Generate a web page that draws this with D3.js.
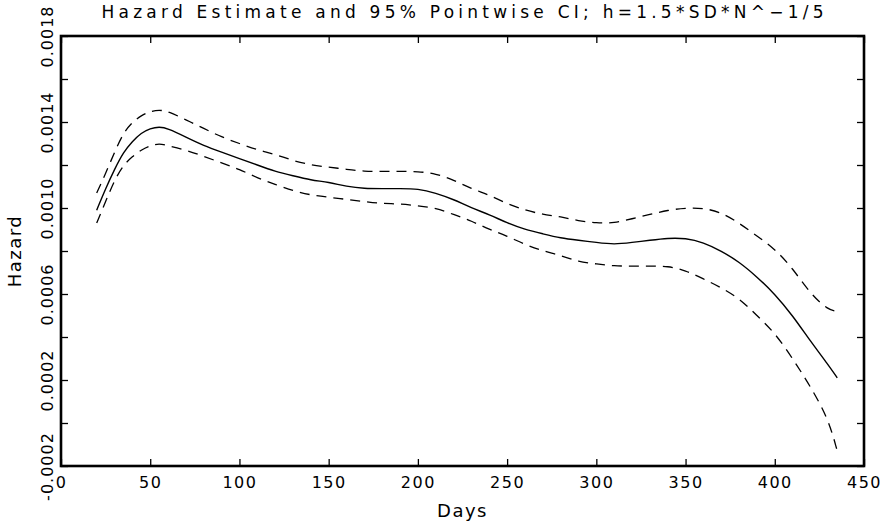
<!DOCTYPE html>
<html>
<head>
<meta charset="utf-8">
<script src="https://cdn.jsdelivr.net/npm/d3@7"></script>
<style>
  html, body { margin: 0; padding: 0; background: #fff; }
  svg { display: block; }
  text { font-family: "DejaVu Sans", sans-serif; fill: #000; }
</style>
</head>
<body>
<svg id="chart" width="887" height="525"></svg>
<script>
const titleText = "Hazard Estimate and 95% Pointwise CI; h=1.5*SD*N^\u22121/5";
const xLabel = "Days";
const yLabel = "Hazard";

const days   = [20,25,30,35,40,45,50,55,60,70,80,90,100,110,120,130,140,150,160,170,180,190,200,210,220,230,240,250,260,270,280,290,300,310,320,330,340,350,360,370,380,390,400,410,420,430,435];
const hazard = [0.00099,0.00109,0.00118,0.00126,0.00131,0.00135,0.00137,0.001378,0.00137,0.00133,0.00129,0.00126,0.00123,0.00120,0.00117,0.00115,0.00113,0.00112,0.00110,0.00109,0.00109,0.00109,0.00109,0.00107,0.00104,0.00100,0.00097,0.00093,0.00090,0.00088,0.00086,0.00085,0.00084,0.00083,0.00084,0.00085,0.00086,0.00086,0.00084,0.00080,0.00075,0.00068,0.00060,0.00050,0.00038,0.00027,0.00021];
const upper  = [0.00107,0.00116,0.00126,0.00135,0.00140,0.00143,0.00145,0.001456,0.00145,0.00141,0.00137,0.00133,0.00130,0.00127,0.00125,0.00122,0.00120,0.00119,0.00118,0.00117,0.00117,0.00117,0.00117,0.00116,0.00113,0.00109,0.00106,0.00102,0.00099,0.00097,0.00096,0.00094,0.00093,0.00093,0.00095,0.00097,0.00099,0.00100,0.00100,0.00098,0.00093,0.00087,0.00081,0.00072,0.00060,0.000525,0.00052];
const lower  = [0.00093,0.00103,0.00113,0.00120,0.00124,0.00127,0.00129,0.00130,0.00129,0.00127,0.00124,0.00121,0.00118,0.00114,0.00111,0.00108,0.00106,0.00105,0.00104,0.00103,0.00102,0.00102,0.00101,0.00100,0.00097,0.00094,0.00090,0.00087,0.00083,0.00080,0.00078,0.00075,0.00074,0.00073,0.00073,0.00073,0.00073,0.00071,0.00067,0.00063,0.00058,0.00050,0.00042,0.00030,0.00017,0.00002,-0.00013];

const xTicks = [0,50,100,150,200,250,300,350,400,450];
const xTickLabels = ["0","50","100","150","200","250","300","350","400","450"];
const yTicks = [-0.0002,0,0.0002,0.0004,0.0006,0.0008,0.0010,0.0012,0.0014,0.0016,0.0018];
const yTickLabels = ["-0.0002","","0.0002","","0.0006","","0.0010","","0.0014","","0.0018"];

(function () {
const margin = {left: 61, top: 36, right: 23, bottom: 59};
const W = 887, H = 525;
const w = W - margin.left - margin.right;
const h = H - margin.top - margin.bottom;

const svg = d3.select("#chart");
const g = svg.append("g").attr("transform", `translate(${margin.left},${margin.top})`);

const x = d3.scaleLinear().domain([0, 450]).range([0, w]);
const y = d3.scaleLinear().domain([-0.0002, 0.0018]).range([h, 0]);

const tickLen = 7;

const axBottom = g.append("g").attr("transform", `translate(0,${h})`)
  .call(d3.axisBottom(x).tickValues(xTicks).tickSize(-tickLen).tickPadding(4)
        .tickFormat((d, i) => xTickLabels[i]));
const axTop = g.append("g")
  .call(d3.axisTop(x).tickValues(xTicks).tickSize(-tickLen).tickFormat(""));
const axLeft = g.append("g")
  .call(d3.axisLeft(y).tickValues(yTicks).tickSize(-tickLen).tickPadding(0)
        .tickFormat((d, i) => yTickLabels[i]));
const axRight = g.append("g").attr("transform", `translate(${w},0)`)
  .call(d3.axisRight(y).tickValues(yTicks).tickSize(-tickLen).tickFormat(""));

[axBottom, axTop, axLeft, axRight].forEach(a => {
  a.select(".domain").remove();
  a.selectAll(".tick line").attr("stroke", "#000").attr("stroke-width", 1.3);
});

axBottom.selectAll(".tick text")
  .attr("y", 22).attr("dy", null)
  .style("font-size", "16px").style("letter-spacing", "1.5px");

axLeft.selectAll(".tick text")
  .attr("x", null).attr("dy", null)
  .attr("text-anchor", "middle")
  .attr("transform", "translate(-8,0) rotate(-90)")
  .style("font-size", "16px").style("letter-spacing", "1px");

g.append("rect").attr("x", 0).attr("y", 0).attr("width", w).attr("height", h)
  .attr("fill", "none").attr("stroke", "#000").attr("stroke-width", 2.6);

const line = d3.line().x((d, i) => x(days[i])).y(d => y(d)).curve(d3.curveBasis);

g.append("path").datum(upper).attr("d", line)
  .attr("fill", "none").attr("stroke", "#000").attr("stroke-width", 1.3)
  .attr("stroke-dasharray", "10,7");
g.append("path").datum(lower).attr("d", line)
  .attr("fill", "none").attr("stroke", "#000").attr("stroke-width", 1.3)
  .attr("stroke-dasharray", "10,7");
g.append("path").datum(hazard).attr("d", line)
  .attr("fill", "none").attr("stroke", "#000").attr("stroke-width", 1.4);

svg.append("text").attr("x", margin.left + w / 2).attr("y", 18)
  .attr("text-anchor", "middle")
  .attr("textLength", 722).attr("lengthAdjust", "spacing")
  .style("font-size", "17px").text(titleText);

svg.append("text").attr("x", margin.left + w / 2).attr("y", 517)
  .attr("text-anchor", "middle").style("font-size", "18px")
  .style("letter-spacing", "1.5px").text(xLabel);

svg.append("text").attr("transform", `translate(21,${margin.top + h / 2}) rotate(-90)`)
  .attr("text-anchor", "middle").style("font-size", "18px")
  .style("letter-spacing", "1.5px").text(yLabel);
})();
</script>
</body>
</html>
